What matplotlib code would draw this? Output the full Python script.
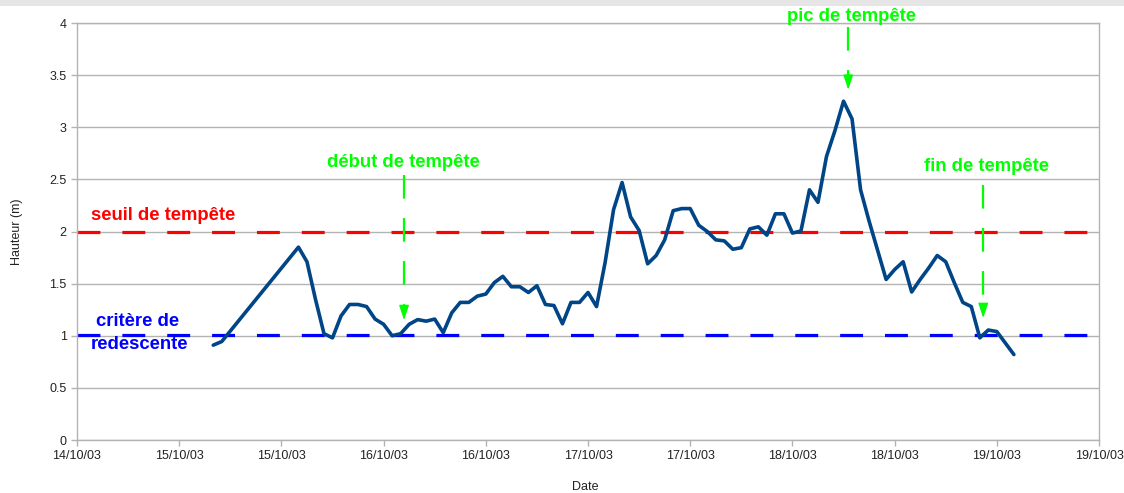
import numpy as np
import matplotlib
matplotlib.use("Agg")
import matplotlib.pyplot as plt
from matplotlib.patches import Rectangle

plt.rcParams['font.family'] = ['Liberation Sans', 'DejaVu Sans']
plt.rcParams['lines.scale_dashes'] = False

# Time axis: hours counted from 14/10/03 00:00
tick_hours = [12, 24, 36, 48, 60, 72, 84, 96, 108, 120, 132]
tick_labels = ["14/10/03", "15/10/03", "15/10/03", "16/10/03", "16/10/03",
               "17/10/03", "17/10/03", "18/10/03", "18/10/03", "19/10/03",
               "19/10/03"]

# Early readings before the data gap
early_hours = [28, 29]
early_heights = [0.91, 0.945]

# Hourly record from 15/10/03 14:00 to 19/10/03 02:00
record_start = 38
record_heights = [
    1.85, 1.71, 1.35, 1.02, 0.98, 1.19, 1.30, 1.30, 1.28, 1.16,
    1.11, 1.00, 1.02, 1.11, 1.155, 1.14, 1.16, 1.03, 1.22, 1.32,
    1.32, 1.38, 1.40, 1.51, 1.57, 1.47, 1.47, 1.415, 1.48, 1.30,
    1.29, 1.115, 1.32, 1.32, 1.415, 1.28, 1.70, 2.21, 2.47, 2.14,
    2.01, 1.69, 1.77, 1.92, 2.20, 2.22, 2.22, 2.06, 2.00, 1.92,
    1.91, 1.83, 1.845, 2.025, 2.045, 1.965, 2.17, 2.17, 1.985, 2.005,
    2.40, 2.28, 2.72, 2.97, 3.25, 3.08, 2.40, 2.10, 1.82, 1.54,
    1.635, 1.71, 1.42, 1.54, 1.65, 1.77, 1.71, 1.51, 1.32, 1.28,
    0.98, 1.055, 1.04, 0.93, 0.82,
]

storm_threshold = 2.0
descent_criterion = 1.01

hours = np.concatenate([early_hours,
                        record_start + np.arange(len(record_heights))])
heights = np.concatenate([early_heights, record_heights])

GREEN = '#00ff00'
RED = '#ff0000'
BLUE = '#0000ff'
SERIES = '#004586'
GRID = '#b3b3b3'

fig = plt.figure(figsize=(11.24, 4.93), dpi=100)
fig.patches.append(Rectangle((0, 0.988), 1, 0.012, transform=fig.transFigure,
                             facecolor='#e6e6e6', edgecolor='none', zorder=0))
ax = fig.add_axes([0.0685, 0.1075, 0.9093, 0.8458])

ax.set_xlim(12, 132)
ax.set_ylim(0, 4)
ax.set_yticks(np.arange(0, 4.01, 0.5))
ax.set_yticklabels(['0', '0.5', '1', '1.5', '2', '2.5', '3', '3.5', '4'])
ax.set_xticks(tick_hours)
ax.set_xticklabels(tick_labels)
ax.grid(axis='y', color=GRID, linewidth=1.0)
ax.set_axisbelow(True)
for s in ax.spines.values():
    s.set_color(GRID)
    s.set_linewidth(1.0)
ax.tick_params(axis='both', colors=GRID, labelcolor='#222222', labelsize=9,
               length=4, width=1)

# Threshold lines
dash = (0, (16.5, 15.8))
ax.axhline(storm_threshold, color=RED, linewidth=2.3, linestyle=dash, zorder=2)
ax.axhline(descent_criterion, color=BLUE, linewidth=2.3, linestyle=dash, zorder=2)

# Water level
ax.plot(hours, heights, color=SERIES, linewidth=2.6, solid_joinstyle='round',
        solid_capstyle='round', zorder=3)

# Annotations
tfont = dict(fontsize=13.3, fontweight='bold', ha='center', va='center',
             clip_on=False)
ax.text(22.1, 2.15, 'seuil de tempête', color=RED, **tfont)
ax.text(19.1, 1.134, 'critère de', color=BLUE, **tfont)
ax.text(19.3, 0.92, 'redescente', color=BLUE, **tfont)
ax.text(50.3, 2.66, 'début de tempête', color=GREEN, **tfont)
ax.text(102.9, 4.06, 'pic de tempête', color=GREEN, **tfont)
ax.text(118.8, 2.62, 'fin de tempête', color=GREEN, **tfont)

head = 0.125
for x, y_top, y_tip in [(50.4, 2.54, 1.15), (102.55, 3.96, 3.36),
                        (118.4, 2.45, 1.17)]:
    ax.plot([x, x], [y_top, y_tip + head], color=GREEN, linewidth=1.6,
            linestyle=(0, (17, 14)), clip_on=False, zorder=4)
    ax.annotate('', xy=(x, y_tip), xytext=(x, y_tip + head),
                arrowprops=dict(arrowstyle='-|>,head_length=0.9,head_width=0.3',
                                color=GREEN, lw=1.0, shrinkA=0, shrinkB=0),
                zorder=4)

ax.set_xlabel('Date', fontsize=9, color='#222222')
ax.set_ylabel('Hauteur (m)', fontsize=9, color='#222222')
ax.xaxis.set_label_coords(0.497, -0.098)
ax.yaxis.set_label_coords(-0.053, 0.5)

fig.savefig('out.png', dpi=100)
